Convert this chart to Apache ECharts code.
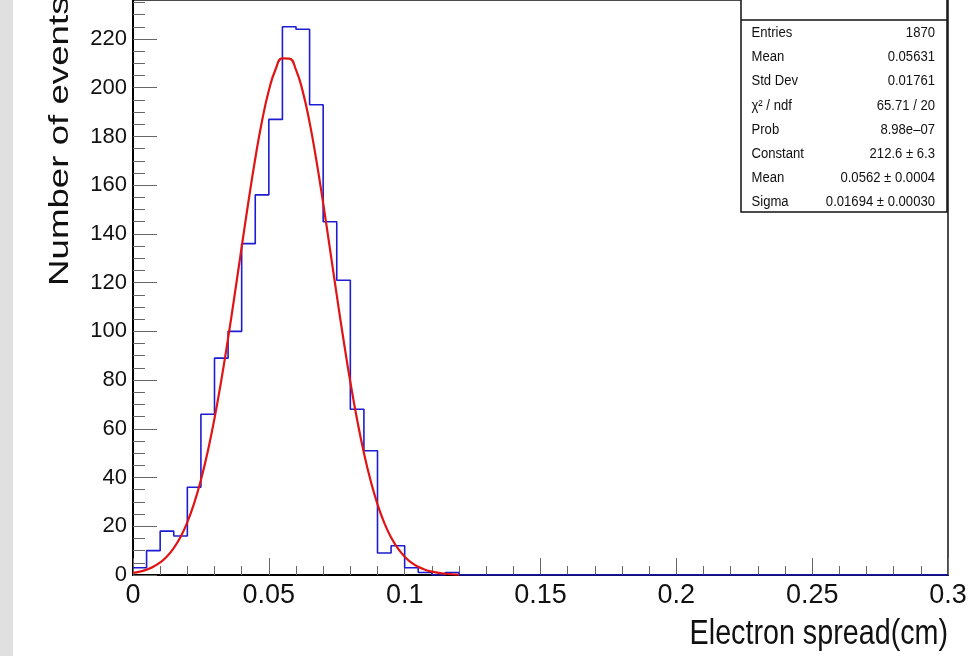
<!DOCTYPE html>
<html><head><meta charset="utf-8">
<script src="https://cdn.jsdelivr.net/npm/echarts@6/dist/echarts.min.js"></script>
<style>html,body{margin:0;padding:0;background:#fff}#c{width:971px;height:656px}</style>
</head><body><div id="c"></div>
<script>
// histogram: 60 bins of width 0.005 from 0 to 0.3
const binCounts = [3,10,18,16,36,66,89,100,136,156,187,225,224,193,145,121,68,51,9,12,3,1,0,1,
  0,0,0,0,0,0,0,0,0,0,0,0,0,0,0,0,0,0,0,0,0,0,0,0,0,0,0,0,0,0,0,0,0,0,0,0];
const binWidth = 0.005;
// fitted gaussian curve
const fitX = [0,0.0025,0.005,0.0075,0.01,0.0125,0.015,0.0175,0.02,0.0225,0.025,0.0275,0.03,0.0325,0.035,0.0375,
  0.04,0.0425,0.045,0.0475,0.05,0.0525,0.055,0.0575,0.06,0.0625,0.065,0.0675,0.07,0.0725,0.075,0.0775,
  0.08,0.0825,0.085,0.0875,0.09,0.0925,0.095,0.0975,0.1,0.1025,0.105,0.1075,0.11,0.1125,0.115,0.1175,0.12];
const fitY = [0.87,1.40,2.21,3.41,5.16,7.63,11.04,15.64,21.68,29.39,38.99,50.62,64.29,79.89,97.15,115.6,
  134.58,153.3,170.86,186.33,198.83,207.59,212.07,211.97,207.32,198.39,185.77,170.19,152.57,133.82,114.84,96.44,
  79.23,63.71,50.11,38.56,29.04,21.40,15.43,10.88,7.51,5.07,3.35,2.17,1.37,0.85,0.51,0.30,0.18];
const xTicks = [0,0.05,0.1,0.15,0.2,0.25,0.3];
const yTicks = [0,20,40,60,80,100,120,140,160,180,200,220];
const yMinorTicks = [0,5,10,15,20,25,30,35,40,45,50,55,60,65,70,75,80,85,90,95,100,105,110,115,120,125,130,135,140,145,150,155,160,165,170,175,180,185,190,195,200,205,210,215,220,225,230,235];
const statLabels = ['Entries','Mean','Std Dev','\u03c7\u00b2 / ndf','Prob','Constant','Mean','Sigma'];
const statValues = ['1870','0.05631','0.01761','65.71 / 20','8.98e\u201307','212.6 \u00b1 6.3','0.0562 \u00b1 0.0004','0.01694 \u00b1 0.00030'];
const xTitle = 'Electron spread(cm)';
const yTitle = 'Number of events';

const histData = binCounts.map((c, i) => [+(i * binWidth).toFixed(4), c]);
histData.push([+(binCounts.length * binWidth).toFixed(4), binCounts[binCounts.length - 1]]);
const fitData = fitX.map((x, i) => [x, fitY[i]]);

const chart = echarts.init(document.getElementById('c'), null, {renderer: 'canvas'});
const sans = '"Liberation Sans", Arial, sans-serif';
const tickColor = '#666';

const graphics = [
  {type: 'rect', shape: {x: 0, y: 0, width: 13, height: 656}, style: {fill: '#e0e0e0'}, z: 0},
  {type: 'rect', shape: {x: 741, y: -5, width: 206, height: 217}, style: {fill: '#fff', stroke: '#111', lineWidth: 1.5}, z: 100},
  {type: 'line', shape: {x1: 741, y1: 20, x2: 947, y2: 20}, style: {stroke: '#111', lineWidth: 1.5}, z: 101},
  {type: 'text', x: 948, y: 634, scaleX: 0.82, z: 100,
   style: {text: xTitle, font: '35px ' + sans, fill: '#111', textAlign: 'right', textVerticalAlign: 'middle'}},
  {type: 'text', x: 60.7, y: 286, rotation: Math.PI / 2, scaleX: 1.31, z: 100,
   style: {text: yTitle, font: '28px ' + sans, fill: '#111', textAlign: 'left', textVerticalAlign: 'middle'}}
];
statLabels.forEach((t, i) => {
  const y = 33.3 + i * 24.14;
  graphics.push({type: 'text', x: 751.5, y: y, scaleX: 0.97, scaleY: 1.05, z: 102,
    style: {text: t, font: '13.5px ' + sans, fill: '#111', textAlign: 'left', textVerticalAlign: 'middle'}});
  graphics.push({type: 'text', x: 935, y: y, scaleX: 0.97, scaleY: 1.05, z: 102,
    style: {text: statValues[i], font: '13.5px ' + sans, fill: '#111', textAlign: 'right', textVerticalAlign: 'middle'}});
});

chart.setOption({
  animation: false,
  backgroundColor: '#fff',
  grid: {left: 133, right: 23, top: 0, bottom: 81, show: true, borderColor: '#111', borderWidth: 1.5, backgroundColor: 'transparent'},
  xAxis: {
    type: 'value', min: 0, max: 0.3, interval: 0.05,
    axisLine: {show: true, lineStyle: {color: '#000', width: 2}},
    axisTick: {show: true, inside: true, length: 17, lineStyle: {color: tickColor, width: 1}},
    minorTick: {show: true, splitNumber: 5, length: 9, lineStyle: {color: tickColor, width: 1}},
    splitLine: {show: false}, minorSplitLine: {show: false},
    axisLabel: {
      customValues: xTicks,
      formatter: v => String(parseFloat((+v).toFixed(3))),
      fontFamily: sans, fontSize: 27, color: '#111', margin: 7.5
    }
  },
  yAxis: [{
    type: 'value', min: 0, max: 236, interval: 20,
    axisLine: {show: true, lineStyle: {color: '#000', width: 2}},
    axisTick: {show: true, inside: true, length: 24, customValues: yTicks, lineStyle: {color: tickColor, width: 1}},
    splitLine: {show: false},
    axisLabel: {customValues: yTicks, fontFamily: sans, fontSize: 22, color: '#111', margin: 6}
  }, {
    type: 'value', min: 0, max: 236, position: 'left',
    axisLine: {show: false},
    axisTick: {show: true, inside: true, length: 12, customValues: yMinorTicks, lineStyle: {color: tickColor, width: 1}},
    splitLine: {show: false},
    axisLabel: {show: false}
  }],
  series: [{
    type: 'line', name: 'hist', data: histData, step: 'end', symbol: 'none',
    lineStyle: {color: '#1c1cd0', width: 1.6}, z: 3
  }, {
    type: 'line', name: 'fit', data: fitData, smooth: true, symbol: 'none',
    lineStyle: {color: '#e01414', width: 2.2}, z: 4
  }],
  graphic: graphics
});
</script></body></html>
